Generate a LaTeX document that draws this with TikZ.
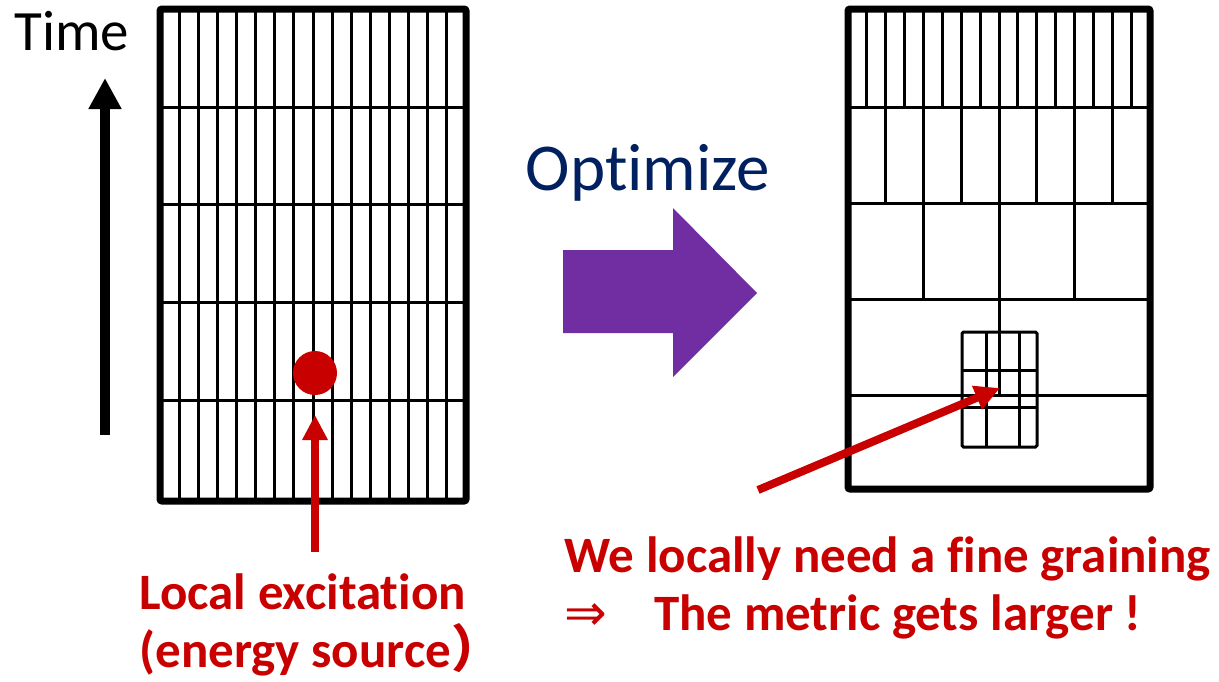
\documentclass[tikz,border=0pt]{standalone}
\usepackage{fontspec}
\setmainfont{Carlito}[Ligatures=NoCommon]
\newfontfamily\cjkfont{Noto Sans CJK JP}
\newfontfamily\arrowfont{DejaVu Sans}
\usetikzlibrary{arrows.meta}
\definecolor{exred}{RGB}{200,0,0}
\definecolor{optpurple}{RGB}{112,46,162}
\definecolor{optnavy}{RGB}{0,32,96}

\begin{document}
\begin{tikzpicture}[x=1pt, y=-1pt,
  frame/.style={line width=7pt, rounded corners=2pt},
  cell/.style={line width=3pt},
  fine/.style={line width=3pt, rounded corners=1.5pt},
  redarrow/.style={exred, line width=8pt, -{Triangle[length=25pt,width=24pt]}},
  redtext/.style={text=exred, font=\fontsize{51}{58}\selectfont\bfseries}]
  \useasboundingbox (0,0) rectangle (1219,681);
  % Time axis
  \node[anchor=base, font=\fontsize{57}{60}\selectfont] (time) at (72,50) {Time};
  \coordinate (tfoot) at (105,435);
  \coordinate (ttop) at (105,78);
  \draw[line width=10pt, -{Triangle[length=31pt,width=31pt]}] (tfoot) -- (ttop);

  % Left grid: uniform fine graining
  \foreach \i in {1,...,15}
    \draw[cell] ({160+19.125*\i},9) -- ({160+19.125*\i},501);
  \foreach \y in {107,204,302,400}
    \draw[cell] (160,\y) -- (466,\y);
  \draw[frame] (160,9) rectangle (466,501);

  % Local excitation
  \node[circle, fill=exred, minimum size=44pt, inner sep=0pt] (src) at (315,373) {};
  \node[redtext, align=left, anchor=north west] (srclabel) at (136,570) {Local excitation\\(energy source{\cjkfont ）}};
  \coordinate (srcfoot) at (315,552);
  \coordinate (srchit) at (315,415);
  \draw[redarrow] (srcfoot) -- (srchit);

  % Optimize arrow
  \node[text=optnavy, font=\fontsize{67}{72}\selectfont, anchor=base] (opt) at (648,190) {Optimize};
  \fill[optpurple] (563,250) -- (673,250) -- (673,208) -- (757,293) -- (673,377) -- (673,333) -- (563,333) -- cycle;

  % Right grid: adapted graining
  \foreach \i in {1,...,15}
    \draw[cell] ({848+18.875*\i},9) -- ({848+18.875*\i},107);
  \foreach \i in {2,4,...,14}
    \draw[cell] ({848+18.875*\i},107) -- ({848+18.875*\i},203);
  \foreach \i in {4,8,12}
    \draw[cell] ({848+18.875*\i},203) -- ({848+18.875*\i},299);
  \draw[cell] (999,299) -- (999,395);
  \foreach \y in {107,203,299,395}
    \draw[cell] (848,\y) -- (1150,\y);
  % fine patch around the source
  \draw[fine] (962,332) rectangle (1037,447);
  \foreach \x in {986,1019}
    \draw[fine] (\x,332) -- (\x,447);
  \foreach \y in {370,407}
    \draw[fine] (962,\y) -- (1037,\y);
  \draw[frame] (848,9) rectangle (1150,489);

  \node[redtext, align=left, anchor=north west] (finelabel) at (561,533) {We locally need a fine graining\\{\arrowfont\mdseries ⇒}\hspace{47pt}The metric gets larger !};
  \coordinate (finefoot) at (758,490);
  \coordinate (finehit) at (1000,388);
  \draw[redarrow] (finefoot) -- (finehit);
\end{tikzpicture}
\end{document}
